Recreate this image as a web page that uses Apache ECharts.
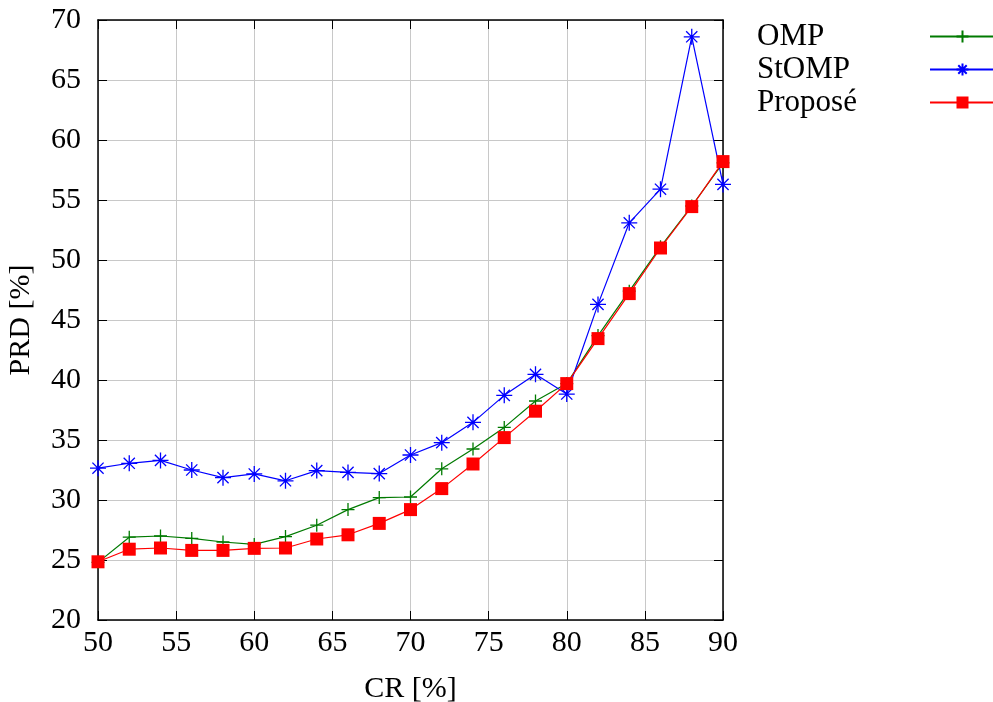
<!DOCTYPE html>
<html>
<head>
<meta charset="utf-8">
<script src="https://cdn.jsdelivr.net/npm/echarts@6/dist/echarts.min.js"></script>
<style>
html,body{margin:0;padding:0;background:#fff;overflow:hidden;}
#chart{width:993px;height:702px;}
</style>
</head>
<body>
<div id="chart"></div>
<script>
var crValues = [50,52,54,56,58,60,62,64,66,68,70,72,74,76,78,80,82,84,86,88,90];
var ompValues = [24.8,26.9,27.0,26.8,26.5,26.3,26.95,27.9,29.2,30.2,30.25,32.6,34.25,36.05,38.25,39.7,43.7,47.4,51.1,54.5,58.1];
var stompValues = [32.65,33.06,33.3,32.5,31.86,32.17,31.6,32.45,32.3,32.2,33.75,34.78,36.47,38.72,40.47,38.83,46.3,53.1,55.9,68.6,56.3];
var proposeValues = [24.85,25.9,26.0,25.8,25.8,25.97,26.0,26.75,27.1,28.05,29.2,30.95,33.0,35.2,37.4,39.7,43.45,47.2,51.0,54.45,58.2];
var seriesNames = ['OMP','StOMP','Proposé'];
var xTicks = {min:50, max:90, step:5};
var yTicks = {min:20, max:70, step:5};

function pairs(ys){ return crValues.map(function(x,i){ return [x, ys[i]]; }); }

var FONT = 'Liberation Serif';
var plusPath = 'path://M0,5 L10,5 M5,0 L5,10';
var starPath = 'path://M5,0 L5,10 M0,5 L10,5 M1.5,1.5 L8.5,8.5 M1.5,8.5 L8.5,1.5';

function axisCommon(extra){
  var a = {
    type:'value',
    axisLine:{show:true, onZero:false, lineStyle:{color:'#000', width:1.5}},
    axisTick:{show:true, inside:true, length:9, lineStyle:{color:'#000', width:1}},
    axisLabel:{fontFamily:FONT, fontSize:30, color:'#000'},
    splitLine:{show:false}
  };
  for (var k in extra) a[k] = extra[k];
  return a;
}

var chart = echarts.init(document.getElementById('chart'), null, {renderer:'canvas'});
chart.setOption({
  animation:false,
  backgroundColor:'#fff',
  grid:{left:98, right:270, top:20, bottom:82, containLabel:false, outerBoundsMode:'none'},
  legend:{
    orient:'vertical', left:752, top:16, align:'right',
    itemWidth:65, itemHeight:15, itemGap:2,
    data:seriesNames,
    formatter:function(n){ return '{a|' + n + '}'; },
    textStyle:{fontFamily:FONT, fontSize:31, color:'#000',
      rich:{a:{width:168, align:'left', fontFamily:FONT, fontSize:31, lineHeight:31, color:'#000'}}}
  },
  xAxis:[
    axisCommon({position:'bottom', min:xTicks.min, max:xTicks.max, interval:xTicks.step,
      name:'CR [%]', nameLocation:'middle', nameGap:54,
      nameTextStyle:{fontFamily:FONT, fontSize:30, color:'#000'},
      axisLabel:{fontFamily:FONT, fontSize:30, color:'#000', margin:8},
      splitLine:{show:true, lineStyle:{color:'#c8c8c8', width:1}}}),
    axisCommon({position:'top', min:xTicks.min, max:xTicks.max, interval:xTicks.step,
      axisLabel:{show:false}})
  ],
  yAxis:[
    axisCommon({position:'left', min:yTicks.min, max:yTicks.max, interval:yTicks.step,
      name:'PRD [%]', nameLocation:'middle', nameGap:62, nameRotate:90,
      nameTextStyle:{fontFamily:FONT, fontSize:30, color:'#000'},
      axisLabel:{fontFamily:FONT, fontSize:30, color:'#000', margin:17},
      splitLine:{show:true, lineStyle:{color:'#c8c8c8', width:1}}}),
    axisCommon({position:'right', min:yTicks.min, max:yTicks.max, interval:yTicks.step,
      axisLabel:{show:false}})
  ],
  series:[
    {name:seriesNames[0], type:'line', data:pairs(ompValues), clip:false,
      symbol:plusPath, symbolSize:13, showAllSymbol:true,
      lineStyle:{color:'#007a00', width:1.2},
      itemStyle:{color:'#007a00', borderColor:'#007a00', borderWidth:1.3}},
    {name:seriesNames[1], type:'line', data:pairs(stompValues), clip:false,
      symbol:starPath, symbolSize:16, showAllSymbol:true,
      lineStyle:{color:'#0000ff', width:1.2},
      itemStyle:{color:'#0000ff', borderColor:'#0000ff', borderWidth:1.3}},
    {name:seriesNames[2], type:'line', data:pairs(proposeValues), clip:false,
      symbol:'rect', symbolSize:13, showAllSymbol:true,
      lineStyle:{color:'#ff0000', width:1.2},
      itemStyle:{color:'#ff0000', borderWidth:0}}
  ]
});
</script>
</body>
</html>
